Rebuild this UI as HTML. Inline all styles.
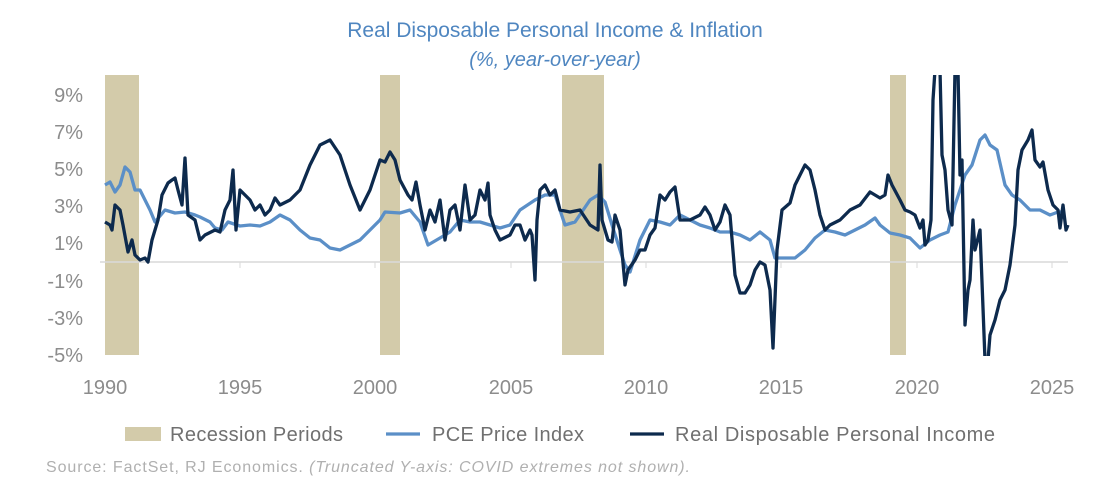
<!DOCTYPE html>
<html><head><style>body{margin:0;background:#fff}svg{display:block}text{font-family:"Liberation Sans",sans-serif}</style></head><body>
<svg width="1107" height="488" viewBox="0 0 1107 488">
<defs><clipPath id="c"><rect x="100" y="75" width="972" height="281"/></clipPath></defs>
<text x="555" y="37" text-anchor="middle" font-size="21" fill="#4f86c0">Real Disposable Personal Income &amp; Inflation</text>
<text x="555" y="66" text-anchor="middle" font-size="20" font-style="italic" fill="#4f86c0">(%, year-over-year)</text>
<g fill="#d3cbaa"><rect x="105" y="75" width="34" height="280"/><rect x="380" y="75" width="20" height="280"/><rect x="562" y="75" width="42" height="280"/><rect x="890" y="75" width="16" height="280"/></g>
<line x1="100" y1="262" x2="1068" y2="262" stroke="#d9d9d9" stroke-width="1.5"/>
<g stroke="#d9d9d9"><line x1="240" y1="262" x2="240" y2="268"/><line x1="375" y1="262" x2="375" y2="268"/><line x1="511" y1="262" x2="511" y2="268"/><line x1="646" y1="262" x2="646" y2="268"/><line x1="781" y1="262" x2="781" y2="268"/><line x1="917" y1="262" x2="917" y2="268"/><line x1="1052" y1="262" x2="1052" y2="268"/></g>
<g font-size="20" fill="#8c8c8c" text-anchor="end"><text x="83" y="102">9%</text><text x="83" y="139">7%</text><text x="83" y="176">5%</text><text x="83" y="213">3%</text><text x="83" y="250">1%</text><text x="83" y="288">-1%</text><text x="83" y="325">-3%</text><text x="83" y="362">-5%</text></g>
<g font-size="20" fill="#8c8c8c" text-anchor="middle"><text x="105" y="394">1990</text><text x="240" y="394">1995</text><text x="375" y="394">2000</text><text x="511" y="394">2005</text><text x="646" y="394">2010</text><text x="781" y="394">2015</text><text x="917" y="394">2020</text><text x="1052" y="394">2025</text></g>
<g clip-path="url(#c)" fill="none" stroke-linejoin="round" stroke-width="3.3">
<polyline stroke="#5b8fc7" points="105,185 110,182 115,192 120,185 125,167 130,172 135,190 140,190 150,210 155,222 165,210 175,213 185,212 195,215 200,217 210,222 215,228 222,230 228,222 240,226 250,225 260,226 270,222 280,215 290,220 300,230 310,238 320,240 330,248 340,250 350,245 360,240 370,230 380,220 385,212 400,213 410,210 420,222 428,245 440,238 450,232 460,220 470,222 480,222 490,225 500,228 510,225 520,210 535,200 545,195 555,195 565,225 575,222 590,200 598,195 605,202 612,225 620,250 625,265 630,272 640,240 650,220 660,222 670,225 680,215 690,220 700,225 710,228 720,232 730,232 740,235 750,240 760,232 770,240 775,258 785,258 795,258 805,250 815,238 825,230 835,232 845,235 855,230 865,225 875,218 880,225 890,233 900,235 910,238 920,248 930,240 940,235 948,232 955,205 965,175 972,165 980,140 985,135 990,145 997,150 1005,185 1012,195 1020,200 1030,210 1040,210 1050,215 1058,212 1065,212"/>
<polyline stroke="#0d2a4d" points="105,222 110,225 112,230 115,205 120,210 123,225 128,252 132,240 135,255 140,260 145,258 148,262 152,240 158,220 162,195 168,183 172,180 175,178 178,190 182,205 185,158 188,215 195,220 200,240 205,235 215,230 220,232 225,210 230,200 233,170 236,230 240,190 245,195 250,200 255,210 260,205 265,215 270,210 275,198 280,205 290,200 300,190 310,165 320,145 330,140 340,155 350,185 360,210 370,190 380,160 385,162 390,152 395,160 400,180 408,195 412,200 416,182 420,205 425,230 430,210 435,222 440,200 445,240 450,210 455,205 460,230 465,185 470,220 475,215 480,190 485,200 488,183 490,215 495,230 500,240 510,235 515,225 520,225 525,240 530,230 532,235 535,280 537,220 540,190 545,185 550,195 555,190 560,210 570,212 580,210 590,225 598,230 600,165 602,220 608,240 612,242 615,215 620,230 625,285 628,270 635,260 640,250 645,250 650,235 655,228 660,195 665,200 670,192 675,187 680,220 690,220 700,215 705,207 710,215 715,230 720,222 725,205 730,215 735,275 740,293 745,293 750,285 755,270 760,262 765,265 770,290 773,348 777,250 782,210 790,203 795,185 800,175 805,165 810,170 815,190 820,215 825,230 830,225 840,220 850,210 860,205 870,192 880,198 885,195 888,175 892,185 900,200 905,210 910,212 915,215 920,228 923,220 925,245 928,240 931,220 933,100 935,70 940,70 942,155 945,170 948,210 952,225 955,70 958,70 960,175 962,160 965,325 968,290 970,280 973,220 975,250 980,230 985,360 988,360 990,335 995,320 1000,300 1005,290 1010,265 1015,225 1018,170 1022,150 1028,140 1032,130 1035,160 1040,167 1043,162 1048,190 1053,205 1058,210 1060,228 1063,205 1066,230 1068,225"/>
</g>
<rect x="125" y="427" width="36" height="14" fill="#d3cbaa"/>
<text x="170" y="441" textLength="173" font-size="20" fill="#707070">Recession Periods</text>
<line x1="386" y1="434" x2="420" y2="434" stroke="#5b8fc7" stroke-width="3.3"/>
<text x="432" y="441" textLength="152" font-size="20" fill="#707070">PCE Price Index</text>
<line x1="630" y1="434" x2="664" y2="434" stroke="#0d2a4d" stroke-width="3.3"/>
<text x="675" y="441" textLength="320" font-size="20" fill="#707070">Real Disposable Personal Income</text>
<text x="46" y="472" textLength="644" font-size="16" fill="#b0b0b0">Source: FactSet, RJ Economics. <tspan font-style="italic">(Truncated Y-axis: COVID extremes not shown).</tspan></text>
</svg>
</body></html>
